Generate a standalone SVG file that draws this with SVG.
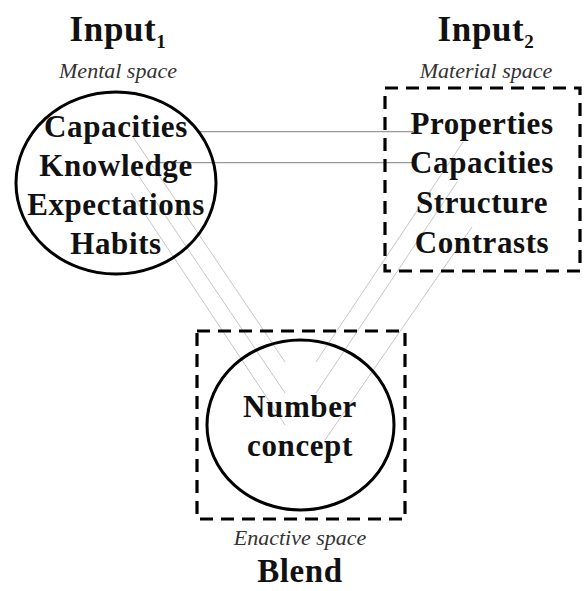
<svg xmlns="http://www.w3.org/2000/svg" width="584" height="591" viewBox="0 0 584 591">
<style>
  .title{font-family:"Liberation Serif",serif;font-weight:bold;font-size:35px;fill:#111;text-anchor:middle;letter-spacing:0.6px}
  .sub{font-size:19px}
  .space{font-family:"Liberation Serif",serif;font-style:italic;font-size:22px;fill:#333;text-anchor:middle}
  .item{font-family:"Liberation Serif",serif;font-weight:bold;font-size:31px;fill:#111;text-anchor:middle;letter-spacing:0.6px}
  .solid{fill:none;stroke:#000;stroke-width:3}
  .dashed{fill:none;stroke:#000;stroke-width:3.2;stroke-dasharray:13 8}
  .hline{stroke:#999;stroke-width:1.2;fill:none}
  .dline{stroke:#b8b8b8;stroke-width:0.8;fill:none}
</style>
<rect width="584" height="591" fill="#fff"/>
<g id="connectors">
  <line class="hline" x1="197" y1="131.7" x2="413" y2="131.7"/>
  <line class="hline" x1="158" y1="162.7" x2="415" y2="162.7"/>
  <line class="dline" x1="133" y1="137" x2="285" y2="362"/>
  <line class="dline" x1="138" y1="175" x2="285" y2="393"/>
  <line class="dline" x1="131" y1="193" x2="285" y2="425"/>
  <line class="dline" x1="463" y1="142" x2="316" y2="362"/>
  <line class="dline" x1="457" y1="182" x2="316" y2="393"/>
  <line class="dline" x1="472" y1="227" x2="325" y2="440"/>
</g>
<g id="input1">
  <text class="title" x="118" y="41">Input<tspan class="sub" dy="7">1</tspan></text>
  <text class="space" x="118" y="78">Mental space</text>
  <ellipse class="solid" cx="116" cy="183" rx="100" ry="91"/>
  <text class="item" x="116" y="137">Capacities</text>
  <text class="item" x="116" y="176">Knowledge</text>
  <text class="item" x="116" y="215">Expectations</text>
  <text class="item" x="116" y="254">Habits</text>
</g>
<g id="input2">
  <text class="title" x="486" y="41">Input<tspan class="sub" dy="7">2</tspan></text>
  <text class="space" x="486" y="78">Material space</text>
  <rect class="dashed" x="385" y="88" width="195" height="183"/>
  <text class="item" x="482" y="134">Properties</text>
  <text class="item" x="482" y="173">Capacities</text>
  <text class="item" x="482" y="213">Structure</text>
  <text class="item" x="482" y="253">Contrasts</text>
</g>
<g id="blend">
  <rect class="dashed" x="197" y="331" width="208" height="188"/>
  <ellipse class="solid" cx="300.5" cy="425" rx="93.5" ry="85"/>
  <text class="item" x="300" y="417">Number</text>
  <text class="item" x="300" y="456">concept</text>
  <text class="space" x="300" y="545">Enactive space</text>
  <text class="title" x="300" y="582" style="font-size:33px">Blend</text>
</g>
</svg>
